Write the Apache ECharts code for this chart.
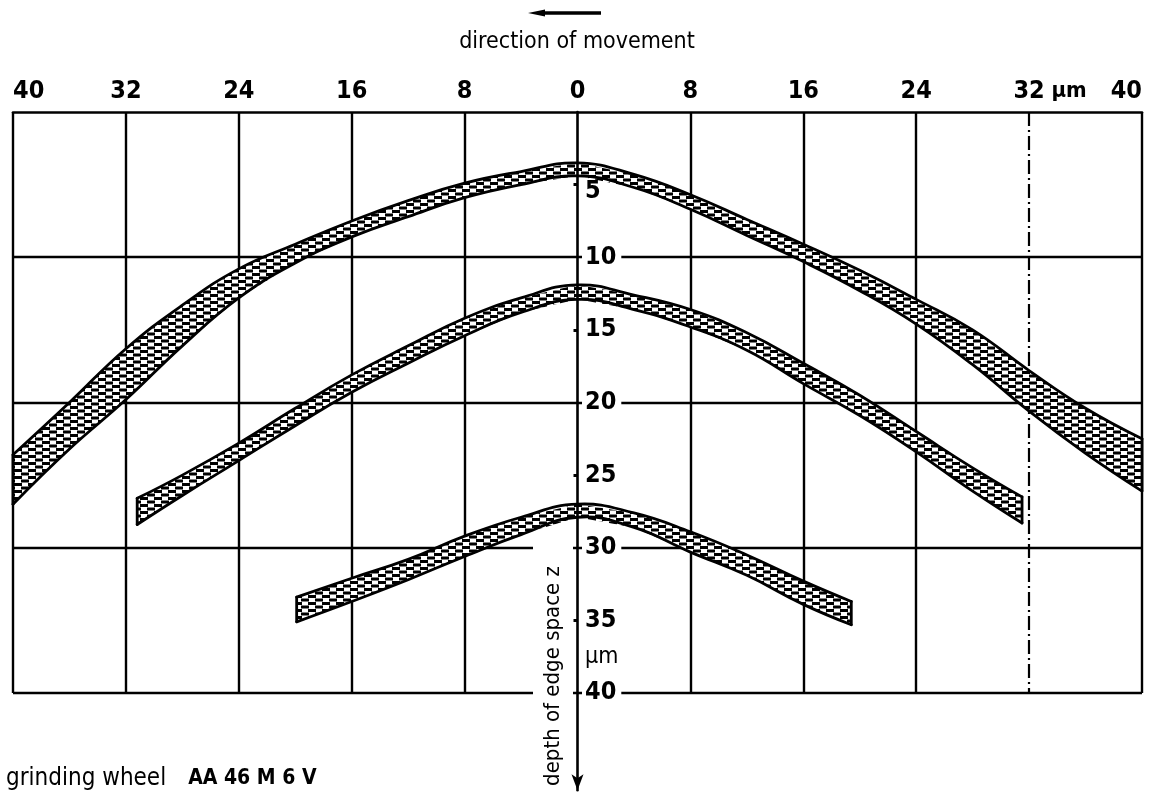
<!DOCTYPE html>
<html>
<head>
<meta charset="utf-8">
<title>Edge space profiles</title>
<script src="https://cdn.jsdelivr.net/npm/echarts@6/dist/echarts.min.js"></script>
<style>
  html, body { margin: 0; padding: 0; background: #fff; }
  #chart { width: 1150px; height: 801px; }
</style>
</head>
<body>
<div id="chart"></div>
<script>
// Lateral position along the edge in µm (negative = left of the centre line)
// and the depth (µm) of the upper and lower boundary of each traced band.
const profileAX = [-40, -36, -32, -28, -24, -20, -16, -12, -8, -4, 0, 4, 8, 12, 16, 20, 24, 28, 32, 36, 40];
const profileATop = [23.6, 20.0, 16.3, 13.3, 10.8, 9.1, 7.5, 6.1, 4.9, 4.1, 3.5, 4.3, 5.7, 7.4, 9.1, 10.9, 12.9, 15.0, 17.8, 20.4, 22.5];
const profileABottom = [27.0, 23.2, 19.8, 16.1, 12.8, 10.4, 8.6, 7.2, 5.9, 5.0, 4.4, 5.2, 6.7, 8.5, 10.3, 12.3, 14.6, 17.4, 20.6, 23.5, 26.1];

const profileBX = [-31.2, -28, -24, -20, -16, -12, -8, -4, 0, 4, 8, 12, 16, 20, 24, 28, 31.5];
const profileBTop = [26.6, 25.0, 22.8, 20.4, 18.1, 16.1, 14.2, 12.8, 11.9, 12.6, 13.6, 15.2, 17.3, 19.5, 22.0, 24.5, 26.5];
const profileBBottom = [28.4, 26.4, 24.0, 21.6, 19.3, 17.3, 15.4, 13.8, 12.9, 13.6, 14.8, 16.4, 18.7, 20.9, 23.4, 26.1, 28.3];

const profileCX = [-19.9, -16, -12, -8, -4, 0, 4, 8, 12, 16, 19.4];
const profileCTop = [33.4, 32.1, 30.8, 29.2, 27.9, 27.0, 27.6, 28.9, 30.5, 32.3, 33.7];
const profileCBottom = [35.1, 33.7, 32.2, 30.6, 29.1, 27.9, 28.6, 30.3, 31.9, 33.9, 35.3];

// Scales
const depthLabels = [5, 10, 15, 20, 25, 30, 35, 40];
const depthTicks = [5, 15, 25, 35];
const depthGrid = [10, 20, 30, 40];
const lateralGrid = [-32, -24, -16, -8, 8, 16, 24, 32];
const dashedLateral = 32;
const depthUnit = 'µm';
const lateralUnit = 'µm';

const NUM_FONT = "'Liberation Sans Narrow', 'DejaVu Sans Condensed', sans-serif";
const TEXT_FONT = "'DejaVu Sans Condensed', 'DejaVu Sans', sans-serif";

// Short horizontal dash hatching used inside the traced bands
const tile = document.createElement('canvas');
tile.width = 14; tile.height = 7;
const g = tile.getContext('2d');
g.fillStyle = '#fff'; g.fillRect(0, 0, 14, 7);
g.fillStyle = '#000';
g.fillRect(0, 0, 8, 3);
g.fillRect(7, 3.5, 7, 3);
g.fillRect(0, 3.5, 1, 3);
const hatch = { image: tile, repeat: 'repeat' };

function bandSeries(name, xs, tops, bottoms) {
  return {
    name: name,
    type: 'custom',
    z: 10,
    silent: true,
    data: xs.map((x, i) => [x, tops[i], bottoms[i]]),
    renderItem: function (params, api) {
      if (params.dataIndex !== 0) return null;
      const upper = xs.map((x, i) => api.coord([x, tops[i]]));
      const lower = xs.map((x, i) => api.coord([x, bottoms[i]]));
      const n = xs.length - 1;
      const edge = { stroke: '#000', lineWidth: 2.8, fill: null, lineJoin: 'round', lineCap: 'round' };
      return {
        type: 'group',
        children: [
          { type: 'polygon', shape: { points: upper.concat(lower.slice().reverse()) },
            style: { fill: hatch, stroke: null } },
          { type: 'polyline', shape: { points: upper, smooth: 0.45 }, style: edge },
          { type: 'polyline', shape: { points: lower, smooth: 0.45 }, style: edge },
          { type: 'line', shape: { x1: upper[0][0], y1: upper[0][1], x2: lower[0][0], y2: lower[0][1] }, style: edge },
          { type: 'line', shape: { x1: upper[n][0], y1: upper[n][1], x2: lower[n][0], y2: lower[n][1] }, style: edge }
        ]
      };
    }
  };
}

// Frame and grid lines drawn in data coordinates
const frameLines = [];
lateralGrid.forEach(p => {
  const item = [{ coord: [p, 0] }, { coord: [p, 40] }];
  if (p === dashedLateral) item[0].lineStyle = { type: [14, 4, 2, 4], width: 2.2 };
  frameLines.push(item);
});
depthGrid.forEach(d => frameLines.push([{ coord: [-40, d] }, { coord: [40, d] }]));
frameLines.push([{ coord: [-40, 0] }, { coord: [-40, 40] }]);
frameLines.push([{ coord: [40, 0] }, { coord: [40, 40] }]);

const depthLabelStyle = {
  show: true,
  position: 'right',
  distance: 4,
  color: '#000',
  opacity: 1,
  fontFamily: NUM_FONT,
  fontWeight: 'bold',
  fontSize: 25,
  backgroundColor: '#fff',
  padding: [3, 5, 3, 3]
};

// The first depth label sits just under the top band, so it is nudged down
// and drawn without a backing box.
const depthLabelData = depthLabels.map((d, i) => i === 0
  ? { value: [0, d], label: { show: true, offset: [0, 7], backgroundColor: 'rgba(255,255,255,0)' } }
  : { value: [0, d] });

const chart = echarts.init(document.getElementById('chart'), null, { renderer: 'canvas' });

chart.setOption({
  animation: false,
  backgroundColor: '#fff',
  grid: { left: 13, right: 8, top: 112, bottom: 10.7, containLabel: false, outerBoundsMode: 'none' },
  xAxis: {
    type: 'value',
    min: -40, max: 40, interval: 8,
    position: 'top',
    axisLine: { onZero: false, lineStyle: { color: '#000', width: 2.6 } },
    axisTick: { show: false },
    splitLine: { show: false },
    axisLabel: {
      margin: 8,
      color: '#000',
      fontFamily: NUM_FONT,
      fontWeight: 'bold',
      fontSize: 25,
      alignMinLabel: 'left',
      alignMaxLabel: 'right',
      formatter: v => (v === 40 ? '{u|' + lateralUnit + '}' : '') + String(Math.abs(v)),
      rich: { u: { fontFamily: TEXT_FONT, fontSize: 22, color: '#000', padding: [0, 24, 0, 0] } }
    }
  },
  yAxis: {
    type: 'value',
    inverse: true,
    min: 0, max: 46.7,
    position: 'right',
    z: 12,
    axisLine: {
      onZero: true,
      symbol: ['arrow', 'none'],
      symbolSize: [9, 16],
      lineStyle: { color: '#000', width: 2.6 }
    },
    axisTick: { show: true, inside: true, length: 4, customValues: depthTicks, lineStyle: { color: '#000', width: 3 } },
    splitLine: { show: false },
    axisLabel: { show: false }
  },
  graphic: [
    { type: 'polygon', z: 20, shape: { points: [[528, 13], [545, 9.5], [545, 16.5]] }, style: { fill: '#000' } },
    { type: 'line', z: 20, shape: { x1: 540, y1: 13, x2: 601, y2: 13 }, style: { stroke: '#000', lineWidth: 3.5 } },
    { type: 'text', z: 20, x: 577, y: 42,
      style: { text: 'direction of movement', font: "23px 'DejaVu Sans Condensed', sans-serif", fill: '#000', align: 'center', verticalAlign: 'middle' } },
    { type: 'text', z: 20, x: 6, y: 779,
      style: {
        text: '{a|grinding wheel}{b|AA 46 M 6 V}',
        verticalAlign: 'middle', fill: '#000',
        rich: {
          a: { fontFamily: TEXT_FONT, fontSize: 24, padding: [0, 22, 0, 0] },
          b: { fontFamily: TEXT_FONT, fontSize: 21, fontWeight: 'bold' }
        }
      } },
    { type: 'text', z: 11, x: 553, y: 672, rotation: Math.PI / 2,
      style: {
        text: 'depth of edge space z',
        font: "22px 'DejaVu Sans Condensed', sans-serif",
        fill: '#000', align: 'center', verticalAlign: 'middle',
        backgroundColor: '#fff', padding: [2, 22, 16, 14]
      } }
  ],
  series: [
    {
      name: 'frame',
      type: 'line',
      z: 1,
      silent: true,
      data: [],
      markLine: {
        silent: true,
        symbol: ['none', 'none'],
        label: { show: false },
        lineStyle: { color: '#000', width: 2.4, type: 'solid' },
        data: frameLines
      }
    },
    bandSeries('profile A', profileAX, profileATop, profileABottom),
    bandSeries('profile B', profileBX, profileBTop, profileBBottom),
    bandSeries('profile C', profileCX, profileCTop, profileCBottom),
    {
      name: 'depth scale',
      type: 'scatter',
      z: 13,
      silent: true,
      symbolSize: 1,
      itemStyle: { color: 'rgba(0,0,0,0)', opacity: 1 },
      data: depthLabelData,
      label: Object.assign({ formatter: p => String(p.value[1]) }, depthLabelStyle)
    },
    {
      name: 'depth unit',
      type: 'scatter',
      z: 13,
      silent: true,
      symbolSize: 1,
      itemStyle: { color: 'rgba(0,0,0,0)', opacity: 1 },
      data: [[0, 37.5]],
      label: Object.assign({}, depthLabelStyle, {
        formatter: depthUnit, fontFamily: TEXT_FONT, fontWeight: 'normal', fontSize: 23, padding: [2, 2, 0, 3]
      })
    }
  ]
});
</script>
</body>
</html>
